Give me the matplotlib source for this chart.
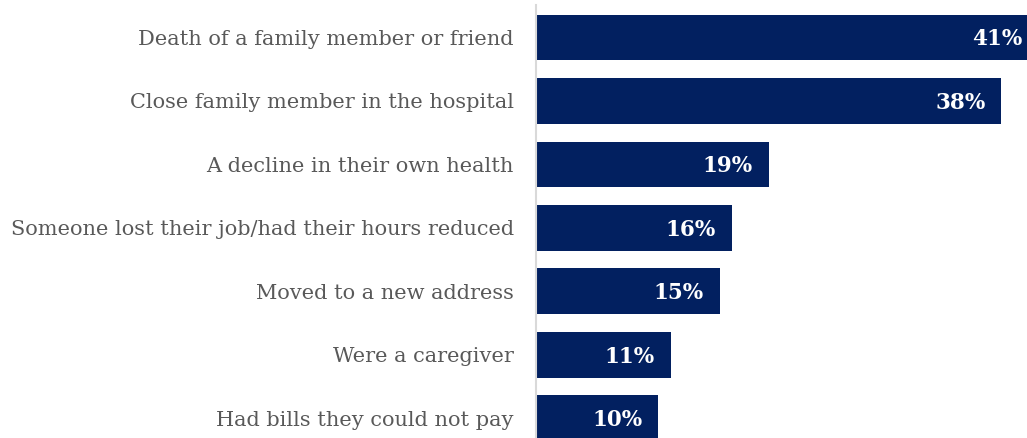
import matplotlib.pyplot as plt

# categories et valeurs (%)
categories = ["Death of a family member or friend",
              "Close family member in the hospital",
              "A decline in their own health",
              "Someone lost their job/had their hours reduced",
              "Moved to a new address",
              "Were a caregiver",
              "Had bills they could not pay"]
valeurs = [41, 38, 19, 16, 15, 11, 10]
etiquettes = ["41%", "38%", "19%", "16%", "15%", "11%", "10%"]

bleu = '#022060'
gris = '#595959'

fig = plt.figure(figsize=(10.27, 4.38), dpi=100)
ax = fig.add_axes([536/1027, 0, 1 - 536/1027, 433/438])

pos = list(range(len(categories)))
ax.barh(pos, valeurs, height=0.72, color=bleu, clip_on=True)

for y, v, lab in zip(pos, valeurs, etiquettes):
    ax.text(v - 1.3, y + 0.03, lab, ha='right', va='center', color='white',
            fontsize=15.5, fontweight='bold', family='DejaVu Serif')

ax.set_xlim(0, 40.1)
ax.set_ylim(6.31, -0.51)
ax.set_yticks(pos)
ax.set_yticklabels(categories, family='DejaVu Serif', fontsize=15, color=gris)
ax.tick_params(axis='y', length=0, pad=16)
ax.set_xticks([])
for s in ['top', 'right', 'bottom']:
    ax.spines[s].set_visible(False)
ax.spines['left'].set_color('#d9d9d9')
ax.spines['left'].set_linewidth(1.5)

plt.savefig('out.png', dpi=100)
